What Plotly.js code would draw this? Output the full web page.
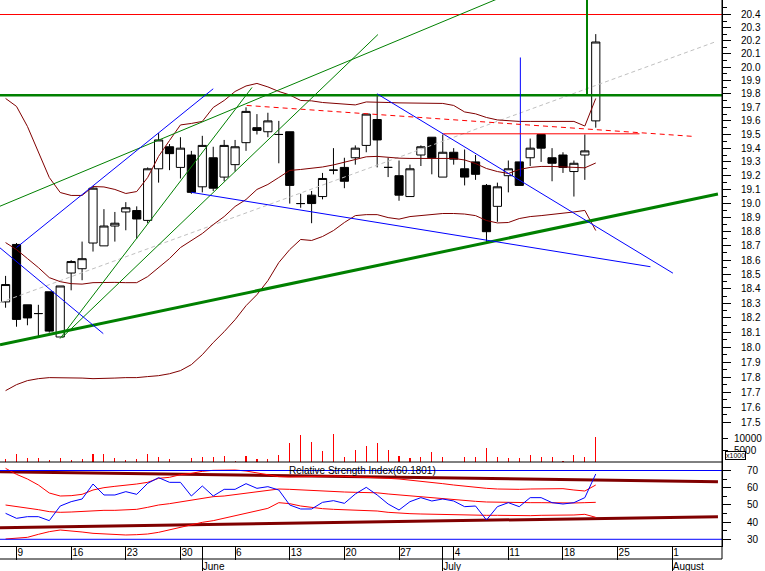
<!DOCTYPE html>
<html><head><meta charset="utf-8">
<script src="https://cdn.plot.ly/plotly-3.0.1.min.js"></script>
<style>html,body{margin:0;padding:0;background:#fff;}#chart{width:765px;height:571px;}</style>
</head><body><div id="chart"></div>
<script>
// trading-day index (0 = Mon 9 May 2005)
const dayIndex = [-1,0,1,2,3,4,5,6,7,8,9,10,11,12,13,14,15,16,17,18,19,20,21,22,23,24,25,26,27,28,29,30,31,32,33,34,35,36,37,38,39,40,41,42,43,44,45,46,47,48,49,50,51,52,53];
const openP  = [18.31,18.71,18.29,18.23,18.38,18.07,18.51,18.54,18.72,18.70,18.84,18.94,18.95,18.88,19.25,19.41,19.26,19.35,19.12,19.33,19.19,19.28,19.44,19.55,19.52,19.50,19.52,19.00,19.06,19.05,19.24,19.26,19.33,19.42,19.61,19.26,19.20,19.05,19.35,19.48,19.19,19.37,19.25,19.30,19.13,18.98,19.20,19.30,19.33,19.50,19.33,19.35,19.23,19.35,19.60];
const highP  = [18.49,18.72,18.29,18.29,18.38,18.42,18.60,18.73,19.12,18.96,18.94,19.01,18.98,19.26,19.51,19.43,19.48,19.38,19.49,19.41,19.46,19.46,19.70,19.65,19.66,19.60,19.52,19.07,19.09,19.22,19.40,19.33,19.42,19.65,19.80,19.33,19.31,19.28,19.42,19.48,19.50,19.40,19.39,19.35,19.14,19.15,19.31,19.30,19.47,19.50,19.40,19.37,19.31,19.50,20.25];
const lowP   = [18.27,18.14,18.15,18.07,18.10,18.07,18.39,18.46,18.66,18.70,18.73,18.81,18.75,18.86,19.15,19.24,19.18,19.07,19.08,19.09,19.16,19.23,19.38,19.50,19.48,19.29,19.00,18.97,18.86,19.03,19.21,19.11,19.28,19.37,19.26,19.19,19.02,19.05,19.27,19.21,19.19,19.28,19.13,19.17,18.72,18.87,19.08,19.13,19.27,19.30,19.16,19.22,19.05,19.17,19.55];
const closeP = [18.43,18.19,18.20,18.23,18.11,18.42,18.59,18.61,19.11,18.84,18.86,18.97,18.89,19.25,19.46,19.36,19.40,19.08,19.42,19.11,19.42,19.41,19.67,19.53,19.60,19.50,19.13,19.00,19.00,19.18,19.24,19.16,19.40,19.65,19.46,19.26,19.06,19.25,19.41,19.33,19.37,19.32,19.19,19.21,18.80,19.12,19.25,19.13,19.40,19.40,19.29,19.26,19.29,19.38,20.19];
const volume = [1290,3560,1720,1720,690,1720,690,1420,3560,3560,1720,860,1120,3560,1970,1120,0,1720,1970,1970,2700,560,2400,1120,1290,3130,8410,11720,8840,4550,12150,2270,4980,7000,8200,4980,2700,1550,2270,4120,1970,0,1970,1970,6270,1970,1550,1550,3130,1970,1970,560,3130,1970,10990];
const bbUpper = [19.766,19.707,19.559,19.369,19.187,19.079,19.058,19.058,19.122,19.119,19.101,19.072,19.086,19.187,19.34,19.456,19.57,19.581,19.596,19.699,19.751,19.818,19.859,19.878,19.852,19.818,19.792,19.751,19.748,19.736,19.729,19.721,19.718,19.74,19.74,19.736,19.733,19.733,19.733,19.733,19.729,19.714,19.666,19.652,19.625,19.607,19.599,19.596,19.596,19.596,19.599,19.599,19.596,19.562,19.766];
const bbMiddle = [18.723,18.674,18.611,18.548,18.478,18.45,18.436,18.433,18.443,18.445,18.445,18.443,18.443,18.485,18.548,18.611,18.688,18.737,18.787,18.85,18.907,18.979,19.029,19.101,19.137,19.187,19.238,19.245,19.252,19.263,19.278,19.296,19.318,19.337,19.34,19.333,19.327,19.325,19.325,19.329,19.33,19.325,19.314,19.288,19.252,19.23,19.216,19.245,19.26,19.267,19.267,19.265,19.263,19.257,19.292];
const bbLower = [17.709,17.749,17.776,17.789,17.796,17.796,17.796,17.793,17.789,17.789,17.793,17.796,17.796,17.803,17.809,17.822,17.843,17.883,17.95,18.032,18.106,18.188,18.284,18.36,18.457,18.583,18.674,18.745,18.738,18.766,18.808,18.865,18.914,18.921,18.921,18.9,18.889,18.907,18.914,18.921,18.929,18.929,18.925,18.914,18.879,18.862,18.865,18.893,18.907,18.914,18.921,18.929,18.94,18.951,18.808];
const rsi = [45.10,42.19,43.16,43.16,40.83,49.36,51.88,53.43,62.15,55.76,55.76,57.70,56.14,62.54,65.83,63.12,63.12,55.17,60.99,55.17,59.05,59.05,62.34,59.63,60.60,58.66,49.94,47.62,47.62,51.49,52.46,50.91,56.34,60.21,55.76,50.52,47.03,51.88,54.21,52.27,53.43,52.27,48.97,49.36,41.22,48.97,51.30,48.97,54.21,54.21,51.30,50.52,51.30,54.21,67.97];
const rsiUpper = [71.26,67.77,65.06,61.57,56.92,55.17,55.37,56.14,58.66,60.02,60.79,61.38,62.15,63.12,65.45,66.03,67.58,68.35,69.52,70.10,70.29,70.29,69.71,68.55,67.77,66.41,66.22,66.41,66.61,66.80,66.80,66.61,66.41,66.22,65.93,65.45,65.06,64.48,63.90,63.12,62.34,61.57,60.79,60.21,59.63,59.24,59.04,59.04,59.24,59.44,59.63,59.44,58.66,58.08,61.57];
const rsiMiddle = [49.94,49.17,48.39,47.23,46.07,45.68,45.87,46.26,46.65,46.84,46.84,47.03,47.42,48.59,49.94,50.72,51.69,52.66,53.62,54.79,55.17,55.95,56.73,57.70,58.47,59.24,59.05,58.66,58.47,58.08,57.70,57.50,57.31,57.31,57.02,56.34,55.76,55.37,54.79,54.21,53.62,53.04,52.46,52.07,51.69,51.49,51.30,51.30,51.30,51.30,51.11,51.11,51.11,51.30,51.49];
const rsiLower = [30.17,30.56,31.14,32.88,34.43,35.40,35.01,34.24,33.46,33.08,32.69,32.50,32.69,33.08,34.05,35.59,36.95,38.31,39.86,40.83,42.19,43.74,44.90,46.45,48.00,51.30,50.72,49.36,48.39,47.81,47.42,47.23,46.84,46.65,46.45,45.68,45.10,44.90,44.71,44.52,44.32,44.32,44.13,44.13,43.94,43.94,43.74,43.74,43.74,43.94,43.94,43.94,44.13,44.52,42.77];

// drawn trend lines (day index, value)
const xRange = [-1.51, 64.55];
const greenSupportX = [-1.51, 64.18], greenSupportY = [18.018, 19.068];
const greenFanAX = [3.98, 21.55],     greenFanAY = [18.059, 19.848];
const greenFanBX = [4.16, 33.07],     greenFanBY = [18.066, 20.247];
const greenShallowX = [-1.51, 50],    greenShallowY = [18.981, 20.732];
const greenVertX = [52.2, 52.2],      greenVertY = [19.79, 20.6];
const blueUpX = [0, 18.0],            blueUpY = [18.688, 19.838];
const blueDownX = [-1.51, 7.94],      blueDownY = [18.686, 18.093];
const blueLowX = [16, 58],            blueLowY = [19.08, 18.554];
const blueHighX = [33, 60.06],        blueHighY = [19.80, 18.509];
const blueVertX = [46.1, 46.1],       blueVertY = [20.073, 19.194];
const redDashX = [21.06, 62.08],      redDashY = [19.714, 19.485];
const redResX = [39.05, 57.0],        redResY = [19.505, 19.505];
const greyTrendX = [-1.51, 63.9],     greyTrendY = [18.305, 20.19];
const resistanceLevel = 20.4, necklineLevel = 19.79;
const rsiLevels = [70, 30];
const rsiTrendX = [-1.51, 64.18];
const rsiTrendUpY = [69.32, 63.51], rsiTrendLowY = [36.76, 43.16];

// axis labels
const weekTickIdx = [0,5,10,15,20,25,30,35,40,45,50,55,60];
const weekTickText = ['9','16','23','30','6','13','20','27','4','11','18','25','1'];
const monthTickIdx = [17,39,60];
const monthTickText = ['June','July','August'];
const priceTicks = [17.5,17.6,17.7,17.8,17.9,18.0,18.1,18.2,18.3,18.4,18.5,18.6,18.7,18.8,18.9,19.0,19.1,19.2,19.3,19.4,19.5,19.6,19.7,19.8,19.9,20.0,20.1,20.2,20.3,20.4];
const priceMinorTicks = [17.55,17.65,17.75,17.85,17.95,18.05,18.15,18.25,18.35,18.45,18.55,18.65,18.75,18.85,18.95,19.05,19.15,19.25,19.35,19.45,19.55,19.65,19.75,19.85,19.95,20.05,20.15,20.25,20.35,20.45];
const volTicks = [5000, 10000];
const rsiTicks = [30,40,50,60,70];
const rsiMinorTicks = [35,45,55,65];

const MAROON = '#800000', GREEN = '#008000', BLUE = '#0000ff', RED = '#ff0000';
function ln(x, y, color, width, dash, xa, ya) {
  return {type:'scatter', mode:'lines', x:x, y:y, xaxis:xa||'x', yaxis:ya||'y',
          line:{color:color, width:width, dash:dash||'solid'}, hoverinfo:'skip'};
}
const traces = [
  {type:'bar', x:dayIndex, y:volume, xaxis:'x', yaxis:'y2', width:0.1,
   marker:{color:RED, line:{width:0}}, hoverinfo:'skip'},
  ln(greyTrendX, greyTrendY, '#c0c0c0', 1, '4px,3px'),
  ln(dayIndex, bbUpper, MAROON, 1),
  ln(dayIndex, bbMiddle, MAROON, 1),
  ln(dayIndex, bbLower, MAROON, 1),
  {type:'candlestick', x:dayIndex, open:openP, high:highP, low:lowP, close:closeP,
   xaxis:'x', yaxis:'y', whiskerwidth:0, hoverinfo:'skip',
   increasing:{line:{color:'#000', width:1}, fillcolor:'#fff'},
   decreasing:{line:{color:'#000', width:1}, fillcolor:'#000'}},
  ln(xRange, [resistanceLevel, resistanceLevel], RED, 1),
  ln(xRange, [necklineLevel, necklineLevel], GREEN, 2.5),
  ln(greenSupportX, greenSupportY, GREEN, 3),
  ln(greenFanAX, greenFanAY, GREEN, 1),
  ln(greenFanBX, greenFanBY, GREEN, 1),
  ln(greenShallowX, greenShallowY, GREEN, 1),
  ln(greenVertX, greenVertY, GREEN, 2),
  ln(blueUpX, blueUpY, BLUE, 1),
  ln(blueDownX, blueDownY, BLUE, 1),
  ln(blueLowX, blueLowY, BLUE, 1),
  ln(blueHighX, blueHighY, BLUE, 1),
  ln(blueVertX, blueVertY, BLUE, 1),
  ln(redDashX, redDashY, RED, 1, '5px,4px'),
  ln(redResX, redResY, RED, 1),
  // RSI panel
  ln(xRange, [rsiLevels[0], rsiLevels[0]], BLUE, 1, null, 'x2', 'y3'),
  ln(xRange, [rsiLevels[1], rsiLevels[1]], BLUE, 1, null, 'x2', 'y3'),
  ln(rsiTrendX, rsiTrendUpY, MAROON, 3, null, 'x', 'y3'),
  ln(rsiTrendX, rsiTrendLowY, MAROON, 3, null, 'x', 'y3'),
  ln(dayIndex, rsiUpper, RED, 1, null, 'x', 'y3'),
  ln(dayIndex, rsiMiddle, RED, 1, null, 'x', 'y3'),
  ln(dayIndex, rsiLower, RED, 1, null, 'x', 'y3'),
  ln(dayIndex, rsi, BLUE, 1, null, 'x', 'y3')
];

const yCommon = {side:'right', anchor:'x', showgrid:false, zeroline:false, showline:true,
  linecolor:'#000', linewidth:1, ticks:'outside', tickcolor:'#000', tickwidth:1,
  tickfont:{size:10, color:'#000'}, fixedrange:true};
const pf = y => (571 - y) / 571;  // pixel row -> paper fraction (layout only)
const logShift = -0.5 / 6123;     // half-pixel shift for crisp level lines

const layout = {
  width:765, height:571, margin:{l:0, r:43, t:0, b:0},
  paper_bgcolor:'#fff', plot_bgcolor:'#fff', showlegend:false,
  font:{family:'Liberation Sans, Arial, sans-serif', size:10, color:'#000'},
  boxgap:0.25, boxgroupgap:0, bargap:0,
  xaxis:{range:xRange, anchor:'y3', domain:[0,1], showgrid:false, zeroline:false,
    showline:true, linecolor:'#000', linewidth:1, ticks:'outside', ticklen:13,
    tickcolor:'#000', tickvals:weekTickIdx, ticktext:weekTickText,
    ticklabelposition:'outside right', ticklabelstandoff:-3,
    tickfont:{size:10, color:'#000'}, rangeslider:{visible:false}, fixedrange:true},
  xaxis2:{range:xRange, overlaying:'x', anchor:'free', position:0, side:'bottom',
    showgrid:false, zeroline:false, showline:false, ticks:'inside', ticklen:25,
    tickcolor:'#000', tickvals:monthTickIdx, ticktext:monthTickText,
    ticklabelposition:'inside right', ticklabelstandoff:-7,
    tickfont:{size:10, color:'#000'}, fixedrange:true},
  yaxis:Object.assign({}, yCommon, {type:'log', domain:[pf(428), 1],
    range:[Math.log10(17.4653) + logShift, Math.log10(20.5154) + logShift], tickvals:priceTicks,
    ticktext:priceTicks.map(v => v.toFixed(1)), ticklen:8, ticklabelstandoff:8,
    minor:{tickvals:priceMinorTicks, ticklen:4, tickcolor:'#000', ticks:'outside'}}),
  yaxis2:Object.assign({}, yCommon, {domain:[pf(462), pf(428)], range:[0, 14700],
    tickvals:volTicks, ticktext:volTicks.map(String), ticklen:5, ticklabelstandoff:4}),
  yaxis3:Object.assign({}, yCommon, {domain:[pf(546), pf(462)], range:[26.1, 74.94],
    tickvals:rsiTicks, ticktext:rsiTicks.map(String), ticklen:8, ticklabelstandoff:14,
    minor:{tickvals:rsiMinorTicks, ticklen:4, tickcolor:'#000', ticks:'outside'}}),
  shapes:[
    {type:'line', xref:'paper', yref:'paper', x0:1, x1:1, y0:pf(559), y1:1, line:{color:'#000', width:1}},
    {type:'line', xref:'paper', yref:'paper', x0:0, x1:1, y0:pf(559), y1:pf(559), line:{color:'#000', width:1}},
    {type:'line', xref:'paper', yref:'paper', x0:0, x1:1, y0:pf(462), y1:pf(462), line:{color:'#000', width:1}}
  ],
  annotations:[
    {xref:'paper', yref:'paper', x:362/722, y:pf(470), text:'Relative Strength Index(60.1801)',
     showarrow:false, font:{size:10, color:'#000'}, xanchor:'center', yanchor:'middle'},
    {xref:'paper', yref:'paper', x:735.5/722, y:pf(455.5), text:'x1000', showarrow:false,
     font:{size:7, color:'#000'}, bgcolor:'#fff', bordercolor:'#000', borderwidth:1, borderpad:0,
     xanchor:'center', yanchor:'middle'}
  ]
};
Plotly.newPlot('chart', traces, layout, {staticPlot:true, displayModeBar:false});
</script></body></html>
